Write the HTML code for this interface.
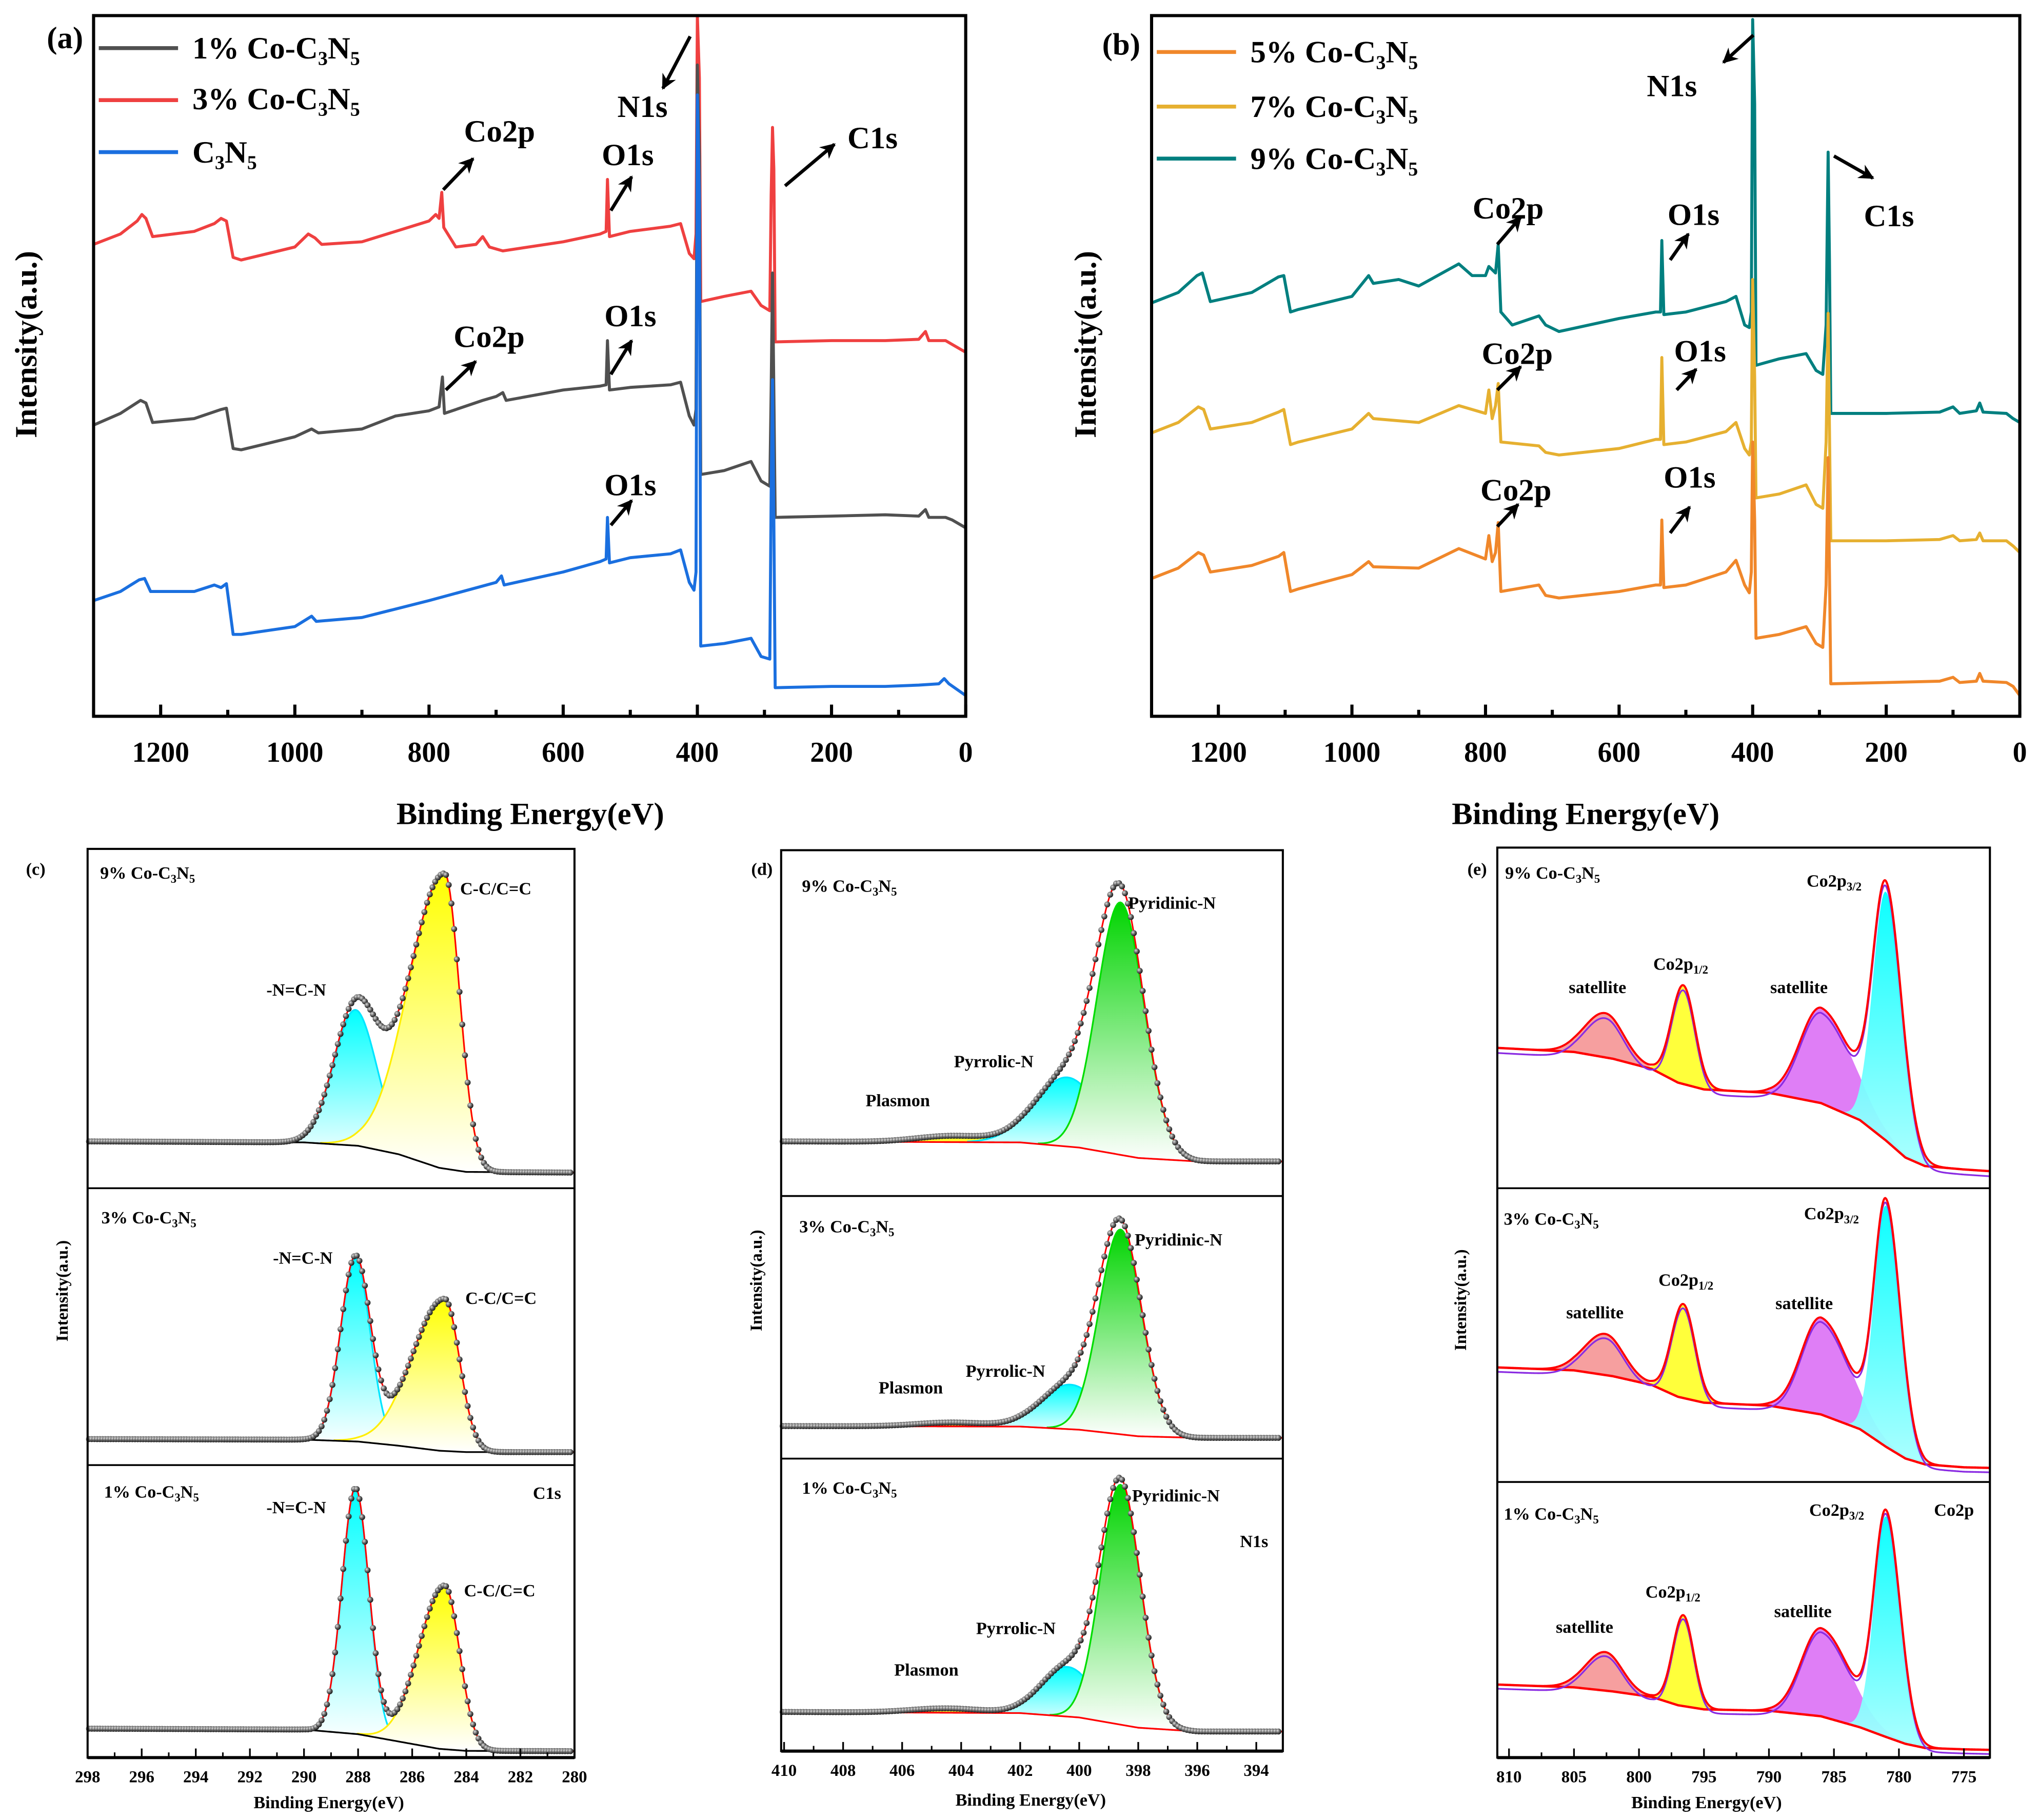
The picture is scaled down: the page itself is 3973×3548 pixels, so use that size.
<!DOCTYPE html>
<html><head><meta charset="utf-8"><title>XPS spectra</title>
<style>
html,body{margin:0;padding:0;background:#fff;}
svg{display:block;}
text{font-family:"Liberation Serif",serif;font-weight:bold;fill:#000;}
.big{font-size:24px;}
.tick{font-size:22px;}
.sm{font-size:13.5px;}
.smt{font-size:13px;}
</style></head>
<body>
<svg id="fig" width="3973" height="3548" viewBox="0 0 1568 1400" preserveAspectRatio="none" xmlns="http://www.w3.org/2000/svg">
<defs>
<marker id="ah" viewBox="0 0 10 10" refX="9" refY="5" markerWidth="4.5" markerHeight="4.5" orient="auto"><path d="M0,0 L10,5 L0,10 L3,5 z" fill="#000"/></marker>
<linearGradient id="gCy" x1="0" y1="0" x2="0" y2="1"><stop offset="0" stop-color="#00ffff"/><stop offset="1" stop-color="#ffffff"/></linearGradient>
<linearGradient id="gYe" x1="0" y1="0" x2="0" y2="1"><stop offset="0" stop-color="#ffff00"/><stop offset="1" stop-color="#ffffff"/></linearGradient>
<linearGradient id="gGr" x1="0" y1="0" x2="0" y2="1"><stop offset="0" stop-color="#00d400"/><stop offset="1" stop-color="#ffffff"/></linearGradient>
<linearGradient id="gCyE" x1="0" y1="0" x2="0" y2="1"><stop offset="0" stop-color="#00ffff"/><stop offset="1" stop-color="#a8ffff"/></linearGradient>
<radialGradient id="gDot" cx="0.35" cy="0.35" r="0.7"><stop offset="0" stop-color="#e0e0e0"/><stop offset="0.5" stop-color="#666"/><stop offset="1" stop-color="#111"/></radialGradient>
</defs>
<g id="layer"></g>

<!-- panel a static text -->
<text class="big" x="36" y="37">(a)</text>
<text class="big" x="148" y="45">1% Co-C<tspan font-size="15" dy="5">3</tspan><tspan dy="-5">N</tspan><tspan font-size="15" dy="5">5</tspan></text>
<text class="big" x="148" y="84">3% Co-C<tspan font-size="15" dy="5">3</tspan><tspan dy="-5">N</tspan><tspan font-size="15" dy="5">5</tspan></text>
<text class="big" x="148" y="125">C<tspan font-size="15" dy="5">3</tspan><tspan dy="-5">N</tspan><tspan font-size="15" dy="5">5</tspan></text>
<text class="big" x="475" y="90">N1s</text>
<text class="big" x="357" y="109">Co2p</text>
<text class="big" x="463" y="127">O1s</text>
<text class="big" x="652" y="114">C1s</text>
<text class="big" x="349" y="267">Co2p</text>
<text class="big" x="465" y="251">O1s</text>
<text class="big" x="465" y="381">O1s</text>
<g stroke="#000" stroke-width="2.6" marker-end="url(#ah)">
<line x1="531" y1="28" x2="510" y2="68"/><line x1="341" y1="146" x2="364" y2="122"/>
<line x1="470" y1="162" x2="486" y2="136"/><line x1="604" y1="143" x2="642" y2="111"/>
<line x1="343" y1="300" x2="366" y2="278"/><line x1="470" y1="288" x2="486" y2="262"/>
<line x1="470" y1="404" x2="486" y2="385"/></g>
<text class="big" x="0" y="0" transform="translate(28,265) rotate(-90)" text-anchor="middle">Intensity(a.u.)</text>
<text class="big" x="408" y="634" text-anchor="middle">Binding Energy(eV)</text>

<!-- panel b static text -->
<text class="big" x="848" y="42">(b)</text>
<text class="big" x="962" y="48">5% Co-C<tspan font-size="15" dy="5">3</tspan><tspan dy="-5">N</tspan><tspan font-size="15" dy="5">5</tspan></text>
<text class="big" x="962" y="90">7% Co-C<tspan font-size="15" dy="5">3</tspan><tspan dy="-5">N</tspan><tspan font-size="15" dy="5">5</tspan></text>
<text class="big" x="962" y="130">9% Co-C<tspan font-size="15" dy="5">3</tspan><tspan dy="-5">N</tspan><tspan font-size="15" dy="5">5</tspan></text>
<text class="big" x="1267" y="74">N1s</text>
<text class="big" x="1133" y="168">Co2p</text>
<text class="big" x="1283" y="173">O1s</text>
<text class="big" x="1434" y="174">C1s</text>
<text class="big" x="1140" y="280">Co2p</text>
<text class="big" x="1288" y="278">O1s</text>
<text class="big" x="1139" y="385">Co2p</text>
<text class="big" x="1280" y="375">O1s</text>
<g stroke="#000" stroke-width="2.6" marker-end="url(#ah)">
<line x1="1349" y1="27" x2="1326" y2="48"/><line x1="1152" y1="188" x2="1170" y2="167"/>
<line x1="1285" y1="200" x2="1299" y2="180"/><line x1="1411" y1="120" x2="1441" y2="137"/>
<line x1="1152" y1="300" x2="1170" y2="282"/><line x1="1290" y1="300" x2="1305" y2="284"/>
<line x1="1152" y1="405" x2="1168" y2="388"/><line x1="1285" y1="410" x2="1300" y2="390"/></g>
<text class="big" x="0" y="0" transform="translate(843,265) rotate(-90)" text-anchor="middle">Intensity(a.u.)</text>
<text class="big" x="1220" y="634" text-anchor="middle">Binding Energy(eV)</text>

<!-- panel c text -->
<text class="sm" x="20" y="673">(c)</text>
<text class="sm" x="77" y="676">9% Co-C<tspan font-size="9" dy="3">3</tspan><tspan dy="-3">N</tspan><tspan font-size="9" dy="3">5</tspan></text>
<text class="sm" x="354" y="688">C-C/C=C</text>
<text class="sm" x="205" y="766">-N=C-N</text>
<text class="sm" x="78" y="941">3% Co-C<tspan font-size="9" dy="3">3</tspan><tspan dy="-3">N</tspan><tspan font-size="9" dy="3">5</tspan></text>
<text class="sm" x="210" y="972">-N=C-N</text>
<text class="sm" x="358" y="1003">C-C/C=C</text>
<text class="sm" x="80" y="1152">1% Co-C<tspan font-size="9" dy="3">3</tspan><tspan dy="-3">N</tspan><tspan font-size="9" dy="3">5</tspan></text>
<text class="sm" x="205" y="1164">-N=C-N</text>
<text class="sm" x="410" y="1153">C1s</text>
<text class="sm" x="357" y="1228">C-C/C=C</text>
<text class="smt" x="0" y="0" transform="translate(52,993) rotate(-90)" text-anchor="middle">Intensity(a.u.)</text>
<text class="sm" x="253" y="1391" text-anchor="middle">Binding Energy(eV)</text>

<!-- panel d text -->
<text class="sm" x="578" y="673">(d)</text>
<text class="sm" x="617" y="686">9% Co-C<tspan font-size="9" dy="3">3</tspan><tspan dy="-3">N</tspan><tspan font-size="9" dy="3">5</tspan></text>
<text class="sm" x="868" y="699">Pyridinic-N</text>
<text class="sm" x="734" y="821">Pyrrolic-N</text>
<text class="sm" x="666" y="851">Plasmon</text>
<text class="sm" x="615" y="948">3% Co-C<tspan font-size="9" dy="3">3</tspan><tspan dy="-3">N</tspan><tspan font-size="9" dy="3">5</tspan></text>
<text class="sm" x="873" y="958">Pyridinic-N</text>
<text class="sm" x="743" y="1059">Pyrrolic-N</text>
<text class="sm" x="676" y="1072">Plasmon</text>
<text class="sm" x="617" y="1149">1% Co-C<tspan font-size="9" dy="3">3</tspan><tspan dy="-3">N</tspan><tspan font-size="9" dy="3">5</tspan></text>
<text class="sm" x="871" y="1155">Pyridinic-N</text>
<text class="sm" x="954" y="1190">N1s</text>
<text class="sm" x="751" y="1257">Pyrrolic-N</text>
<text class="sm" x="688" y="1289">Plasmon</text>
<text class="smt" x="0" y="0" transform="translate(586,985) rotate(-90)" text-anchor="middle">Intensity(a.u.)</text>
<text class="sm" x="793" y="1389" text-anchor="middle">Binding Energy(eV)</text>

<!-- panel e text -->
<text class="sm" x="1129" y="673">(e)</text>
<text class="sm" x="1158" y="676">9% Co-C<tspan font-size="9" dy="3">3</tspan><tspan dy="-3">N</tspan><tspan font-size="9" dy="3">5</tspan></text>
<text class="sm" x="1390" y="682">Co2p<tspan font-size="9" dy="3">3/2</tspan></text>
<text class="sm" x="1272" y="746">Co2p<tspan font-size="9" dy="3">1/2</tspan></text>
<text class="sm" x="1207" y="764">satellite</text>
<text class="sm" x="1362" y="764">satellite</text>
<text class="sm" x="1157" y="942">3% Co-C<tspan font-size="9" dy="3">3</tspan><tspan dy="-3">N</tspan><tspan font-size="9" dy="3">5</tspan></text>
<text class="sm" x="1388" y="938">Co2p<tspan font-size="9" dy="3">3/2</tspan></text>
<text class="sm" x="1276" y="989">Co2p<tspan font-size="9" dy="3">1/2</tspan></text>
<text class="sm" x="1205" y="1014">satellite</text>
<text class="sm" x="1366" y="1007">satellite</text>
<text class="sm" x="1157" y="1169">1% Co-C<tspan font-size="9" dy="3">3</tspan><tspan dy="-3">N</tspan><tspan font-size="9" dy="3">5</tspan></text>
<text class="sm" x="1392" y="1166">Co2p<tspan font-size="9" dy="3">3/2</tspan></text>
<text class="sm" x="1488" y="1166">Co2p</text>
<text class="sm" x="1266" y="1229">Co2p<tspan font-size="9" dy="3">1/2</tspan></text>
<text class="sm" x="1197" y="1256">satellite</text>
<text class="sm" x="1365" y="1244">satellite</text>
<text class="smt" x="0" y="0" transform="translate(1128,1000) rotate(-90)" text-anchor="middle">Intensity(a.u.)</text>
<text class="sm" x="1313" y="1391" text-anchor="middle">Binding Energy(eV)</text>
</svg>
<script>
// ---------- survey data (binding energy eV, intensity a.u.) ----------
const redBE=[1300,1260,1235,1228,1222,1212,1150,1120,1110,1102,1092,1080,1000,980,970,960,900,850,800,790,785,781,778,760,730,720,710,690,600,545,536,534,531,500,440,425,412,405,402,400,397,395,360,320,305,292,290,288,286,284,200,120,70,60,55,30,20,0];
const redI=[363,371,381,386,383,369,373,379,383,381,353,351,361,371,368,363,365,373,381,386,383,403,376,361,363,369,361,358,365,371,373,413,369,373,377,379,356,352,371,539,491,319,323,327,316,312,401,453,421,288,289,289,290,296,289,289,286,280];
const grayBE=[1300,1260,1230,1222,1212,1150,1110,1102,1092,1080,1000,975,965,900,850,800,785,780,777,720,700,690,685,600,545,536,534,531,500,440,425,412,405,402,400,397,395,360,320,305,292,290,288,286,284,200,120,70,60,55,30,20,0];
const grayI=[224,233,243,241,226,229,236,237,206,205,215,221,218,221,231,235,238,261,233,243,246,249,243,251,254,255,289,251,253,255,257,231,224,236,501,431,186,189,196,181,177,251,341,251,153,154,155,154,159,153,153,151,145];
const blueBE=[1300,1260,1232,1224,1215,1150,1120,1110,1102,1092,1080,1000,975,968,900,800,700,692,688,600,545,536,534,531,500,440,425,412,405,402,400,397,395,360,320,305,292,290,288,286,284,200,120,70,40,32,25,0];
const blueI=[89,96,105,106,96,96,101,99,102,63,63,69,77,73,76,89,103,108,101,111,119,121,153,118,122,125,128,103,97,111,478,401,54,56,60,46,44,171,259,151,22,23,23,24,25,29,25,16];
const tealBE=[1300,1260,1232,1224,1212,1150,1110,1102,1092,1080,1000,975,968,930,900,840,820,800,795,785,781,777,760,720,710,690,600,545,538,536,533,500,440,425,412,405,402,400,397,395,360,320,305,295,290,287,285,283,200,120,100,90,65,60,55,20,10,0];
const tealI=[318,326,339,341,319,326,338,339,311,313,323,339,333,336,331,348,339,339,346,341,363,311,301,308,301,296,306,311,311,366,309,311,319,323,301,299,311,536,471,270,275,279,266,263,301,434,351,233,233,234,238,233,235,241,234,233,229,226];
const yelBE=[1300,1260,1230,1222,1212,1150,1110,1102,1092,1080,1000,975,968,900,840,800,795,790,785,781,777,720,710,690,600,545,538,536,533,500,440,425,412,405,402,400,397,395,360,320,305,295,290,287,285,283,200,120,100,90,65,60,55,20,10,0];
const yelI=[218,226,238,236,221,226,234,236,209,211,221,233,229,226,239,233,251,229,239,256,211,208,203,201,206,213,213,276,209,211,219,226,206,201,211,336,261,168,171,178,163,160,211,310,221,135,135,136,139,135,136,141,135,135,131,126];
const oraBE=yelBE.slice();
const oraI=[106,114,126,124,111,116,123,126,96,98,109,119,115,114,129,121,139,119,126,149,96,101,93,91,96,101,101,151,99,101,111,120,101,95,111,211,151,60,63,69,56,53,101,199,111,25,26,27,30,26,27,33,27,26,23,16];
const surveyTicks=[1200,1000,800,600,400,200,0];
const surveyMinor=[1300,1100,900,700,500,300,100];

// ---------- high-resolution fits: component [center, height, sigmaHighBE, sigmaLowBE] ----------
const cTicks=[298,296,294,292,290,288,286,284,282,280];
const cBaseTop=[[298,13.8],[290,13.5],[288,12.5],[286.5,10],[285,6],[284,4.8],[280,4.6]];
const cBaseMid=[[298,9.4],[290,9.2],[288,8.5],[286.5,7],[285,5.2],[284,4.7],[280,4.7]];
const cBaseBot=[[298,9.9],[290,9.6],[288,8],[286.5,5.5],[285,3],[284,2.3],[280,2.2]];
const cCompTop=[[288.1,40,0.8,0.8],[284.8,87,1.3,0.55]];
const cCompMid=[[288.1,66,0.55,0.55],[284.8,55,1.2,0.55]];
const cCompBot=[[288.1,84,0.5,0.5],[284.8,56,0.95,0.55]];
const dTicks=[410,408,406,404,402,400,398,396,394];
const dBaseTop=[[410.1,15.8],[402,15.5],[400,14],[398,11],[396,10],[393,10]];
const dBaseMid=[[410.1,12.4],[402,12.2],[400,11],[398,8.5],[396,7.9],[393,7.9]];
const dBaseBot=[[410.1,13.4],[402,13],[400,11.5],[398,8],[396,6.7],[393,6.7]];
const dCompTop=[[404.3,1.8,1.2,1.2],[400.4,20,1.1,1.1],[398.6,73,0.8,0.8]];
const dCompMid=[[404.3,1.5,1.2,1.2],[400.3,17,1.0,1.0],[398.6,78,0.72,0.72]];
const dCompBot=[[404.5,1.5,1.2,1.2],[400.4,17,0.9,0.9],[398.6,82,0.68,0.68]];
const eTicks=[810,805,800,795,790,785,780,775];
const eBaseTop=[[810.9,41.2],[805,40],[802,38],[799,35],[797,31],[795,29],[790,28],[786,25],[783,20],[781,14],[779.5,9],[778,6.5],[775,5.5],[773,5]];
const eBaseMid=[[810.9,39],[805,38],[802,36],[799,33],[797,29],[795,27],[790,26],[786,23],[783,18],[781,12],[779.5,8],[778,6],[775,5],[773,4.8]];
const eBaseBot=[[810.9,26.5],[805,25.5],[802,24],[799,22],[797,19],[795,17.5],[790,17],[786,15],[783,11],[781,7.5],[779.5,5],[778,3.5],[775,3],[773,2.8]];
const eCompTop=[[802.6,13,1.6,1.4],[796.6,29,0.9,0.9],[786,28,1.6,2.4],[781,73,1.0,1.2]];
const eCompMid=[[802.6,14,1.6,1.4],[796.6,32,0.9,0.9],[786,33,1.5,2.2],[781,82,0.9,1.1]];
const eCompBot=[[802.6,14,1.5,1.3],[796.6,33,0.8,0.8],[786,32,1.5,2.2],[781,80,0.9,1.1]];

const NS='http://www.w3.org/2000/svg';
const layer=document.getElementById('layer');
function mk(tag){const e=document.createElementNS(NS,tag);layer.appendChild(e);return e;}
function fmt(n){return n.toFixed(2);}

// ---------- survey panels ----------
function surveyPanel(x0,x1,top,bot){
  const sx=b=>x0+(1300-b)*(x1-x0)/1300;
  const sy=v=>bot-v;
  return {sx,sy,x0,x1,top,bot};
}
const PA=surveyPanel(72,743,12,551);
const PB=surveyPanel(886,1554,12,551);
function drawSurvey(P,be,iv,color,name){
  let d='';
  const n=Math.min(be.length,iv.length);
  for(let i=0;i<n;i++){d+=(i?'L':'M')+fmt(P.sx(be[i]))+','+fmt(P.sy(iv[i]));}
  const p=mk('path');
  p.setAttribute('d',d);p.setAttribute('fill','none');p.setAttribute('stroke',color);
  p.setAttribute('stroke-width','2.3');p.setAttribute('stroke-linejoin','round');
  
  
}
function surveyAxes(P,tag){
  const r=mk('rect');
  r.setAttribute('x',P.x0);r.setAttribute('y',P.top);r.setAttribute('width',P.x1-P.x0);r.setAttribute('height',P.bot-P.top);
  r.setAttribute('fill','none');r.setAttribute('stroke','#000');r.setAttribute('stroke-width','2.4');
  
  
  surveyTicks.forEach(t=>{
    const l=mk('line');const x=P.sx(t);
    l.setAttribute('x1',x);l.setAttribute('x2',x);l.setAttribute('y1',P.bot);l.setAttribute('y2',P.bot-9);
    l.setAttribute('stroke','#000');l.setAttribute('stroke-width','2.4');
    
    
    const tx=mk('text');tx.setAttribute('x',x);tx.setAttribute('y',P.bot+35);
    tx.setAttribute('text-anchor','middle');tx.setAttribute('class','tick');tx.textContent=t;
    
    
  });
  surveyMinor.forEach(t=>{
    const l=mk('line');const x=P.sx(t);
    l.setAttribute('x1',x);l.setAttribute('x2',x);l.setAttribute('y1',P.bot);l.setAttribute('y2',P.bot-5);
    l.setAttribute('stroke','#000');l.setAttribute('stroke-width','2.4');
    
    
  });
}
drawSurvey(PA,redBE,redI,'#ef4040','series-3pct');
drawSurvey(PA,grayBE,grayI,'#505050','series-1pct');
drawSurvey(PA,blueBE,blueI,'#1a6fdf','series-c3n5');
drawSurvey(PB,tealBE,tealI,'#007f7f','series-9pct');
drawSurvey(PB,yelBE,yelI,'#e6b030','series-7pct');
drawSurvey(PB,oraBE,oraI,'#f0872a','series-5pct');
surveyAxes(PA,'a');surveyAxes(PB,'b');

// legends
function legLine(x1,x2,y,color,name){
  const l=mk('line');l.setAttribute('x1',x1);l.setAttribute('x2',x2);l.setAttribute('y1',y);l.setAttribute('y2',y);
  l.setAttribute('stroke',color);l.setAttribute('stroke-width','3');
  
  
}
legLine(76,137,37,'#505050','legend-swatch-1pct');
legLine(76,137,77,'#ef4040','legend-swatch-3pct');
legLine(76,137,117,'#1a6fdf','legend-swatch-c3n5');
legLine(890,951,40,'#f0872a','legend-swatch-5pct');
legLine(890,951,82,'#e6b030','legend-swatch-7pct');
legLine(890,951,122,'#007f7f','legend-swatch-9pct');

// ---------- high-res fit panels ----------
function interp(arr,b){
  for(let i=0;i<arr.length-1;i++){
    const a=arr[i],c=arr[i+1];
    if((b<=a[0]&&b>=c[0])){const t=(a[0]-b)/(a[0]-c[0]);return a[1]+t*(c[1]-a[1]);}
  }
  return b>arr[0][0]?arr[0][1]:arr[arr.length-1][1];
}
function comp(c,b){const s=b>c[0]?c[2]:c[3];const z=(b-c[0])/s;return c[1]*Math.exp(-0.5*z*z);}
function fitPanel(o){
  const sx=b=>o.x0+(o.be0-b)*(o.x1-o.x0)/(o.be0-o.be1);
  const sy=v=>o.bot-v*(o.bot-o.top)/100;
  const step=0.05;
  const bes=[];for(let b=o.be0;b>=o.be1-1e-9;b-=step)bes.push(b);
  const base=b=>interp(o.base,b);
  // component fills
  o.comps.forEach((c,k)=>{
    let up='',dn='';
    const pts=bes.filter(b=>comp(c,b)>0.15);
    pts.forEach((b,i)=>{up+=(i?'L':'M')+fmt(sx(b))+','+fmt(sy(base(b)+comp(c,b)));});
    for(let i=pts.length-1;i>=0;i--){dn+='L'+fmt(sx(pts[i]))+','+fmt(sy(base(pts[i])));}
    const f=mk('path');f.setAttribute('d',up+dn+'Z');f.setAttribute('fill',o.fills[k]);
    if(o.opac)f.setAttribute('fill-opacity',o.opac);
    
    
    if(o.strokes){
      const s=mk('path');s.setAttribute('d',up);s.setAttribute('fill','none');s.setAttribute('stroke',o.strokes[k]);s.setAttribute('stroke-width','1.3');
      
      
    }
  });
  // baseline
  let bd='';bes.forEach((b,i)=>{bd+=(i?'L':'M')+fmt(sx(b))+','+fmt(sy(base(b)));});
  const bl=mk('path');bl.setAttribute('d',bd);bl.setAttribute('fill','none');bl.setAttribute('stroke',o.baseColor);bl.setAttribute('stroke-width',o.baseW);
  
  
  const env=b=>base(b)+o.comps.reduce((s,c)=>s+comp(c,b),0);
  let ed='';bes.forEach((b,i)=>{ed+=(i?'L':'M')+fmt(sx(b))+','+fmt(sy(env(b)));});
  if(o.purple){
    let pd='';bes.forEach((b,i)=>{pd+=(i?'L':'M')+fmt(sx(b))+','+fmt(sy(env(b)-1.5));});
    const pp=mk('path');pp.setAttribute('d',pd);pp.setAttribute('fill','none');pp.setAttribute('stroke','#8a2be2');pp.setAttribute('stroke-width','1.3');
    
    
  }
  const el=mk('path');el.setAttribute('d',ed);el.setAttribute('fill','none');el.setAttribute('stroke','#ff0000');el.setAttribute('stroke-width',o.purple?'1.6':'1.2');
  
  
  if(o.dots){
    for(let b=o.be0-0.05;b>=o.be1+0.05;b-=0.1){
      const c=mk('circle');c.setAttribute('cx',fmt(sx(b)));c.setAttribute('cy',fmt(sy(env(b))));c.setAttribute('r','2.3');c.setAttribute('fill','url(#gDot)');
      
      
    }
  }
  return {sx,sy};
}
function frame(x0,x1,tops,bot,ticks,minorStep,be0,be1,tag,labelStep){
  const sx=b=>x0+(be0-b)*(x1-x0)/(be0-be1);
  const r=mk('rect');r.setAttribute('x',x0);r.setAttribute('y',tops[0]);r.setAttribute('width',x1-x0);r.setAttribute('height',bot-tops[0]);
  r.setAttribute('fill','none');r.setAttribute('stroke','#000');r.setAttribute('stroke-width','1.6');
  
  
  tops.slice(1).forEach(y=>{
    const l=mk('line');l.setAttribute('x1',x0);l.setAttribute('x2',x1);l.setAttribute('y1',y);l.setAttribute('y2',y);
    l.setAttribute('stroke','#000');l.setAttribute('stroke-width','1.4');
    
    
  });
  const bl=mk('line');bl.setAttribute('x1',x0);bl.setAttribute('x2',x1);bl.setAttribute('y1',bot);bl.setAttribute('y2',bot);
  bl.setAttribute('stroke','#000');bl.setAttribute('stroke-width','2.4');
  
  
  ticks.forEach(t=>{
    const x=sx(t);
    const l=mk('line');l.setAttribute('x1',x);l.setAttribute('x2',x);l.setAttribute('y1',bot);l.setAttribute('y2',bot-7);
    l.setAttribute('stroke','#000');l.setAttribute('stroke-width','1.3');
    
    
    const m=mk('line');const xm=sx(t-minorStep);
    if(t-minorStep>=be1){m.setAttribute('x1',xm);m.setAttribute('x2',xm);m.setAttribute('y1',bot);m.setAttribute('y2',bot-4);m.setAttribute('stroke','#000');m.setAttribute('stroke-width','1.2');}
    
    
    const tx=mk('text');tx.setAttribute('x',x);tx.setAttribute('y',bot+19);tx.setAttribute('text-anchor','middle');tx.setAttribute('class','smt');tx.textContent=t;
    
    
  });
}
// panel c
const cx0=67.4,cx1=442,cbe0=298,cbe1=280;
[[653,914,cBaseTop,cCompTop,'c-top'],[914,1127,cBaseMid,cCompMid,'c-mid'],[1127,1352,cBaseBot,cCompBot,'c-bot']].forEach(p=>{
  fitPanel({x0:cx0,x1:cx1,be0:cbe0,be1:cbe1,top:p[0],bot:p[1],base:p[2],comps:p[3],name:p[4],
    fills:['url(#gCy)','url(#gYe)'],strokes:['#00e5ff','#ffee00'],baseColor:'#000',baseW:'1.3',dots:true});
});
frame(cx0,cx1,[653,914,1127],1352,cTicks,1,cbe0,cbe1,'c');
// panel d
const dx0=601,dx1=987,dbe0=410.1,dbe1=393.1;
[[654,920,dBaseTop,dCompTop,'d-top'],[920,1122,dBaseMid,dCompMid,'d-mid'],[1122,1347,dBaseBot,dCompBot,'d-bot']].forEach(p=>{
  fitPanel({x0:dx0,x1:dx1,be0:dbe0,be1:dbe1,top:p[0],bot:p[1],base:p[2],comps:p[3],name:p[4],
    fills:['#ffff30','url(#gCy)','url(#gGr)'],strokes:['#ffee00','#00e5ff','#00dd00'],baseColor:'#ff0000',baseW:'1.3',dots:true});
});
frame(dx0,dx1,[654,920,1122],1347,dTicks,1,dbe0,dbe1,'d');
// panel e
const ex0=1152,ex1=1531,ebe0=810.9,ebe1=773;
[[652,914,eBaseTop,eCompTop,'e-top'],[914,1140,eBaseMid,eCompMid,'e-mid'],[1140,1352,eBaseBot,eCompBot,'e-bot']].forEach(p=>{
  fitPanel({x0:ex0,x1:ex1,be0:ebe0,be1:ebe1,top:p[0],bot:p[1],base:p[2],comps:p[3],name:p[4],
    fills:['#f59a9a','#ffff30','#dd77f5','url(#gCyE)'],strokes:null,opac:'0.95',baseColor:'#ff0000',baseW:'1.8',dots:false,purple:true});
});
frame(ex0,ex1,[652,914,1140],1352,eTicks,2.5,ebe0,ebe1,'e');
</script>
</body></html>
